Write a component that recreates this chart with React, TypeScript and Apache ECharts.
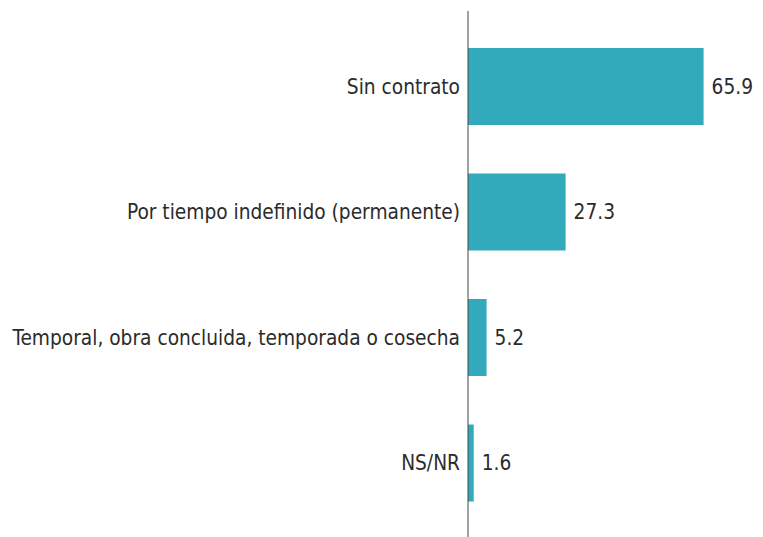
import React, { useEffect, useRef } from "react";
import * as echarts from "echarts";

const categories = [
  "Sin contrato",
  "Por tiempo indefinido (permanente)",
  "Temporal, obra concluida, temporada o cosecha",
  "NS/NR",
];
const values = [65.9, 27.3, 5.2, 1.6];

const FONT = '"Liberation Sans Narrow", "DejaVu Sans Condensed", "Roboto", sans-serif';

export default function App() {
  const ref = useRef<HTMLDivElement>(null);
  useEffect(() => {
    const chart = echarts.init(ref.current!, null, { renderer: "svg" });
    chart.setOption({
      animation: false,
      backgroundColor: "#ffffff",
      grid: {
        left: 468,
        right: 9,
        top: 23.75,
        bottom: 11.25,
        containLabel: false,
        outerBoundsMode: "none",
      },
      xAxis: {
        type: "value",
        min: 0,
        max: 80,
        show: false,
      },
      yAxis: {
        type: "category",
        data: categories,
        inverse: true,
        axisLine: { show: false },
        axisTick: { show: false },
        axisLabel: {
          color: "#2b2b2b",
          fontFamily: FONT,
          fontSize: 20.7,
          margin: 8,
        },
      },
      series: [
        {
          type: "bar",
          data: values,
          barWidth: 77,
          itemStyle: { color: "#33aabb" },
          label: {
            show: true,
            position: "right",
            distance: 8,
            color: "#2b2b2b",
            fontFamily: FONT,
            fontSize: 20.7,
            formatter: (p: any) => p.value.toFixed(1),
          },
        },
      ],
      graphic: [
        {
          type: "line",
          z: 100,
          shape: { x1: 468, y1: 11, x2: 468, y2: 537 },
          style: { stroke: "#444", lineWidth: 1 },
        },
      ],
    });
    return () => chart.dispose();
  }, []);
  return <div ref={ref} style={{ width: 763, height: 537, position: "absolute", left: 0, top: 0 }} />;
}
